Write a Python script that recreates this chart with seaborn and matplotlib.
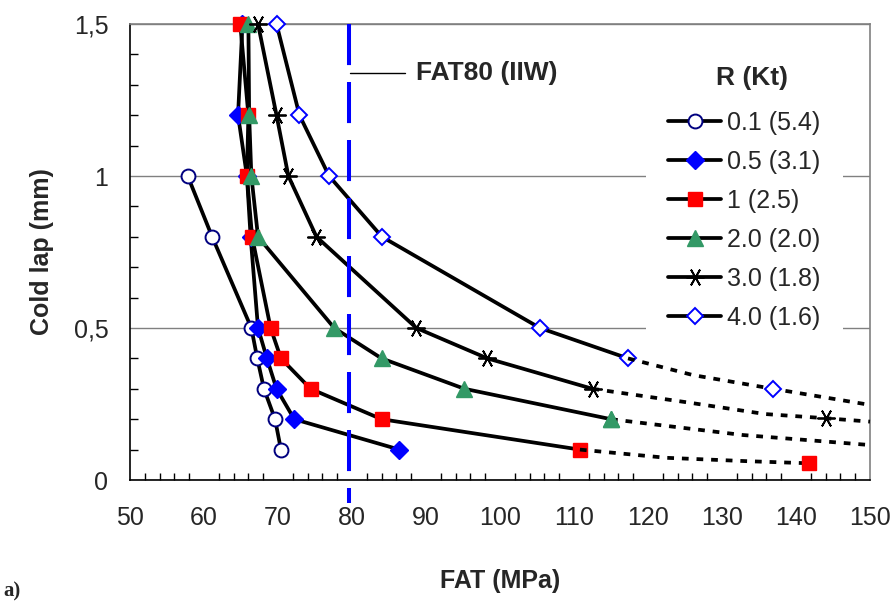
import matplotlib
matplotlib.use('Agg')
import matplotlib.pyplot as plt
from matplotlib import font_manager
from matplotlib.ticker import MultipleLocator, FixedLocator
import seaborn as sns

# Data (FAT in MPa vs cold lap in mm)
lap_full = [1.5, 1.2, 1.0, 0.8, 0.5, 0.4, 0.3, 0.2, 0.1]

r01_fat = [57.8, 61.1, 66.4, 67.2, 68.1, 69.6, 70.4]
r01_lap = [1.0, 0.8, 0.5, 0.4, 0.3, 0.2, 0.1]

r05_fat = [65.2, 64.6, 65.8, 66.3, 67.3, 68.5, 69.8, 72.2, 86.4]
r05_lap = lap_full

r1_fat = [64.9, 66.0, 65.8, 66.5, 69.0, 70.4, 74.4, 84.0, 110.8]
r1_lap = lap_full
r1_ext_fat = [110.8, 122.5, 133.3, 141.7]
r1_ext_lap = [0.1, 0.073, 0.062, 0.055]

r2_fat = [66.0, 66.1, 66.4, 67.3, 77.6, 84.0, 95.2, 115.0]
r2_lap = lap_full[:8]
r2_ext_fat = [115.0, 122.5, 132.8, 150.0]
r2_ext_lap = [0.2, 0.178, 0.148, 0.115]

r3_fat = [67.3, 69.8, 71.4, 75.2, 88.7, 98.3, 112.5]
r3_lap = lap_full[:7]
r3_ext_fat = [112.5, 125.7, 135.8, 144.1, 150.0]
r3_ext_lap = [0.3, 0.254, 0.217, 0.203, 0.192]

r4_fat = [69.8, 72.9, 76.9, 84.05, 105.4, 117.3]
r4_lap = lap_full[:6]
r4_ext_fat = [117.3, 126.1, 136.9, 150.0]
r4_ext_lap = [0.4, 0.345, 0.3, 0.247]

labels = ['0.1 (5.4)', '0.5 (3.1)', '1 (2.5)', '2.0 (2.0)', '3.0 (1.8)', '4.0 (1.6)']
fat80 = 79.6

sns.set_style('white')
plt.rcParams['font.family'] = ['Liberation Sans', 'DejaVu Sans']
names = {f.name for f in font_manager.fontManager.ttflist}
narrow = 'Liberation Sans Narrow' if 'Liberation Sans Narrow' in names else 'Liberation Sans'

fig = plt.figure(figsize=(8.93, 6.04), dpi=100)
ax = fig.add_axes([130 / 893, 1 - 480 / 604, 740 / 893, 456 / 604])

LW = 2.7
DOTS = (1.8, 2.1)


def curve(x, y, marker, ms, fc, ec, mew, label):
    sns.lineplot(x=x, y=y, ax=ax, sort=False, estimator=None, color='black',
                 lw=LW, marker=marker, markersize=ms, markerfacecolor=fc,
                 markeredgecolor=ec, markeredgewidth=mew, zorder=3,
                 clip_on=False)
    line = ax.lines[-1]
    line.set_label(label)
    return line


def extension(x, y, marker, ms, fc, ec, mew, idx):
    sns.lineplot(x=x, y=y, ax=ax, sort=False, estimator=None, color='black',
                 lw=LW, linestyle=(0, DOTS), marker=marker, markersize=ms,
                 markerfacecolor=fc, markeredgecolor=ec, markeredgewidth=mew,
                 markevery=idx, zorder=3, clip_on=False)


# FAT80 vertical line
ax.plot([fat80, fat80], [1.5, -0.076], color='#0000FF', lw=2.9,
        dashes=(10.2, 4.2), clip_on=False, zorder=4)

styles = [
    ('o', 10, 'white', '#000080', 1.4),
    ('D', 9, '#0000FF', '#0000FF', 1.0),
    ('s', 10.5, '#FF0000', '#FF0000', 1.0),
    ('^', 11.5, '#339966', '#339966', 1.0),
    ((6, 2, 30), 13, 'black', 'black', 1.3),
    ('D', 8, 'white', '#0000FF', 1.4),
]

handles = []
series = [(r01_fat, r01_lap), (r05_fat, r05_lap), (r1_fat, r1_lap),
          (r2_fat, r2_lap), (r3_fat, r3_lap), (r4_fat, r4_lap)]
for (x, y), st, lab in zip(series, styles, labels):
    handles.append(curve(x, y, *st, lab))

extension(r1_ext_fat, r1_ext_lap, *styles[2], [3])
extension(r2_ext_fat, r2_ext_lap, *styles[3], [0])
extension(r3_ext_fat, r3_ext_lap, *styles[4], [3])
extension(r4_ext_fat, r4_ext_lap, *styles[5], [2])

ax.set_xlim(50, 150)
ax.set_ylim(0, 1.5)
ax.xaxis.set_major_locator(MultipleLocator(10))
ax.xaxis.set_minor_locator(MultipleLocator(2))
ax.yaxis.set_major_locator(FixedLocator([0, 0.5, 1, 1.5]))
ax.yaxis.set_minor_locator(MultipleLocator(0.1))
ax.set_yticklabels(['0', '0,5', '1', '1,5'])

ax.yaxis.grid(True, which='major', color='#808080', lw=1, zorder=0)
ax.xaxis.grid(False)
for s in ['left', 'bottom']:
    ax.spines[s].set_color('black')
    ax.spines[s].set_linewidth(1.2)
for s in ['top', 'right']:
    ax.spines[s].set_color('#808080')
    ax.spines[s].set_linewidth(1.2)

ax.tick_params(axis='x', which='major', direction='inout', length=13, width=1,
               color='black', pad=12, labelsize=18)
ax.tick_params(axis='x', which='minor', direction='in', length=5, width=1,
               color='black', bottom=True)
ax.tick_params(axis='y', which='major', direction='inout', length=11, width=1,
               color='black', pad=10, labelsize=18)
ax.tick_params(axis='y', which='minor', direction='in', length=6, width=1,
               color='black', left=True)
for t in ax.get_xticklabels():
    t.set_family([narrow, 'Liberation Sans'])

ax.set_xlabel('FAT (MPa)', fontsize=18, fontweight='bold',
              family=[narrow, 'Liberation Sans'], labelpad=28)
ax.set_ylabel('Cold lap (mm)', fontsize=18, fontweight='bold', labelpad=14)

# FAT80 label with short line
ax.plot([79.7, 87.2], [1.339, 1.339], color='black', lw=1, zorder=4)
ax.text(88.6, 1.339, 'FAT80 (IIW)', fontsize=19, fontweight='bold',
        va='center', ha='left')

# legend title drawn as a separate text, legend below it
ax.text((752 - 130) / 740, (480 - 78) / 456, 'R (Kt)', transform=ax.transAxes,
        fontsize=19, fontweight='bold', ha='center', va='center', zorder=6)
leg = ax.legend(handles=handles, labels=labels, loc='upper left',
                bbox_to_anchor=(0.697, 0.859), borderaxespad=0, borderpad=0.9,
                fontsize=18, handlelength=2.1,
                handletextpad=0.25, labelspacing=0.6, frameon=True,
                fancybox=False)
leg.get_frame().set_facecolor('white')
leg.get_frame().set_edgecolor('none')
leg.get_frame().set_alpha(1)
leg.set_zorder(5)

fig.text(0.004, 0.012, 'a)', fontsize=15, fontweight='bold',
         family=['Liberation Serif', 'DejaVu Serif'])

fig.savefig('out.png', dpi=100)
